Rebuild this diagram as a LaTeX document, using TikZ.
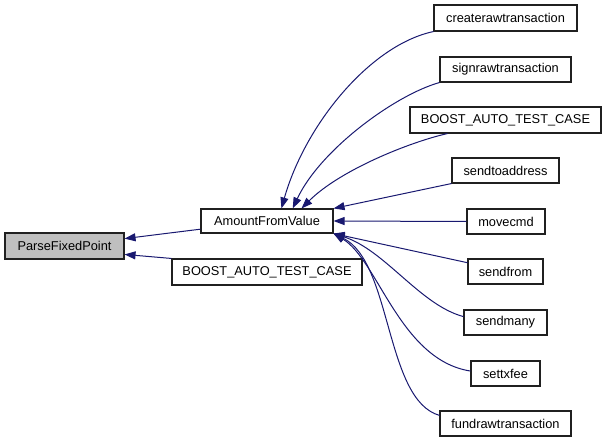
\documentclass[tikz,border=0pt]{standalone}
\usepackage{fontspec}
\setmainfont{Liberation Sans}
\usepackage{xcolor}
\usepackage{tikz}
\usetikzlibrary{arrows.meta}
\definecolor{calledge}{HTML}{191970}
\definecolor{curfill}{HTML}{BFBFBF}
\definecolor{boxline}{HTML}{202020}

\begin{document}
\begin{tikzpicture}[
x=1pt,y=-1pt,
fn/.style={rectangle,draw=boxline,fill=white,line width=1.1pt,minimum height=25pt,inner sep=0pt,font=\fontsize{12.8}{15}\selectfont},
cur/.style={fn,fill=curfill},
call/.style={-{Triangle[length=11pt,width=8pt]},calledge,line width=1pt}
]
\useasboundingbox (0,0) rectangle (607,443);
\node[cur,minimum width=119pt,minimum height=26pt] (pfp) at (64.5,246) {ParseFixedPoint};
\node[fn,minimum width=132pt,minimum height=24pt] (afv) at (267,221) {AmountFromValue};
\node[fn,minimum width=190pt,minimum height=26pt] (btl) at (267,272) {BOOST\_AUTO\_TEST\_CASE};
\node[fn,minimum width=143pt,minimum height=26pt] (crt) at (505.5,18) {createrawtransaction};
\node[fn,minimum width=131pt] (srt) at (505.5,69.5) {signrawtransaction};
\node[fn,minimum width=191pt,minimum height=26pt] (btr) at (505.5,120) {BOOST\_AUTO\_TEST\_CASE};
\node[fn,minimum width=107pt] (sta) at (505.5,170.5) {sendtoaddress};
\node[fn,minimum width=78pt] (mcmd) at (506,221.5) {movecmd};
\node[fn,minimum width=75pt] (sfrom) at (505.5,271.5) {sendfrom};
\node[fn,minimum width=83pt] (smany) at (505.5,322.5) {sendmany};
\node[fn,minimum width=69pt] (stx) at (505.5,373.5) {settxfee};
\node[fn,minimum width=131pt] (frt) at (505.5,423.5) {fundrawtransaction};
% callers of AmountFromValue
\draw[call] (crt.south west) .. controls (370,45) and (305,125) .. (afv.41);
\draw[call] (srt.south west) .. controls (395,95) and (320,150) .. (afv.26);
\draw[call] ([xshift=38pt]btr.south west) .. controls (410,142) and (340,170) .. (afv.20);
\draw[call] (sta.south west) -- (afv.north east);
\draw[call] (mcmd.west) -- (afv.east);
\draw[call] (sfrom.167) -- (afv.south east);
\draw[call] (smany.172) .. controls (420,305) and (385,250) .. (afv.south east);
\draw[call] (stx.176) .. controls (400,360) and (378,260) .. (afv.south east);
\draw[call] (frt.173) .. controls (385,400) and (392,262) .. (afv.south east);
% callers of ParseFixedPoint
\draw[call] (afv.187) -- (pfp.7);
\draw[call] (btl.north west) -- (pfp.-8);
\end{tikzpicture}
\end{document}
